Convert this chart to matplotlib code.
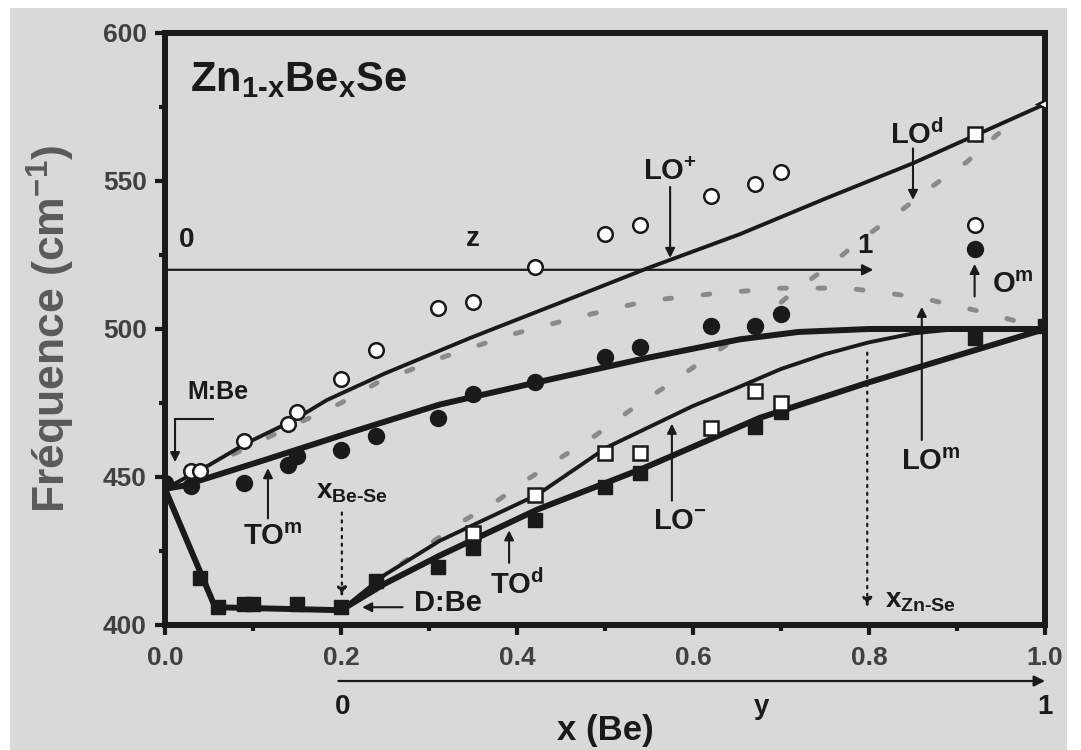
import matplotlib
matplotlib.use("Agg")
import matplotlib.pyplot as plt
from matplotlib.patches import Rectangle
from matplotlib.ticker import MultipleLocator

plt.rcParams['font.family'] = ['Liberation Sans', 'DejaVu Sans']
plt.rcParams['font.weight'] = 'bold'
plt.rcParams['axes.labelweight'] = 'bold'
plt.rcParams['mathtext.fontset'] = 'custom'
plt.rcParams['mathtext.rm'] = 'Liberation Sans:bold'
plt.rcParams['mathtext.it'] = 'Liberation Sans:bold'
plt.rcParams['mathtext.bf'] = 'Liberation Sans:bold'

x_open_circ = [0.03, 0.04, 0.09, 0.14, 0.15, 0.20, 0.24, 0.31, 0.35, 0.42, 0.50, 0.54, 0.62, 0.67, 0.70, 0.92]
y_open_circ = [452, 452, 462, 468, 472, 483, 493, 507, 509, 521, 532, 535, 545, 549, 553, 535]

x_fill_circ = [0.0, 0.03, 0.09, 0.14, 0.15, 0.20, 0.24, 0.31, 0.35, 0.42, 0.50, 0.54, 0.62, 0.67, 0.70, 0.92]
y_fill_circ = [448, 447, 448, 454, 457, 459, 464, 470, 478, 482, 490.5, 494, 501, 501, 505, 527]

x_fill_sq = [0.04, 0.06, 0.09, 0.10, 0.15, 0.20, 0.24, 0.31, 0.35, 0.42, 0.50, 0.54, 0.67, 0.70, 0.92, 1.0]
y_fill_sq = [416, 406, 407, 407, 407, 406, 415, 419.5, 426, 435.5, 446.5, 451.5, 467, 472, 497, 501]

x_open_sq = [0.35, 0.42, 0.50, 0.54, 0.62, 0.67, 0.70, 0.92]
y_open_sq = [431, 444, 458, 458, 466.5, 479, 475, 566]

x_open_tri = [1.0]
y_open_tri = [576]

# model curves (knots)
x_lo_plus = [0, 0.05, 0.093, 0.145, 0.184, 0.25, 0.347, 0.45, 0.548, 0.653, 0.75, 0.85, 1.0]
y_lo_plus = [446, 454, 461.5, 469, 476, 485, 497, 509, 520.5, 532, 544, 556, 576]

x_lo_m = [0, 0.02, 0.116, 0.21, 0.3125, 0.423, 0.544, 0.653, 0.72, 0.8, 1.0]
y_lo_m = [446, 447, 456, 465, 474.5, 482, 490, 496.5, 499, 500, 500]

x_to_d = [0, 0.057, 0.2, 0.25, 0.3125, 0.423, 0.544, 0.676, 0.8, 0.9, 1.0]
y_to_d = [446, 406, 405, 414, 423.5, 439, 453, 470, 482, 491, 500]

x_lo_minus = [0.2, 0.25, 0.3125, 0.423, 0.502, 0.6, 0.653, 0.7, 0.75, 0.8, 0.85, 0.9, 1.0]
y_lo_minus = [405, 417, 428.5, 444, 460, 474, 480.5, 486.5, 491.5, 495.5, 498.5, 500, 500]

x_gray_up = [0, 0.1, 0.2, 0.241, 0.316, 0.392, 0.469, 0.548, 0.625, 0.70, 0.776, 0.855, 0.93, 1.0]
y_gray_up = [446, 461, 475, 481.8, 490.5, 498, 504, 509.5, 512, 513.8, 513.8, 510.8, 505.7, 500]

x_gray_low = [0.2, 0.27, 0.335, 0.373, 0.411, 0.449, 0.489, 0.526, 0.566, 0.605, 0.64, 0.68,
              0.716, 0.756, 0.79, 0.83, 0.869, 0.911, 0.945, 0.975]
y_gray_low = [405, 421, 434.5, 441, 449, 456.4, 464, 472, 480, 488, 495, 504,
              513, 521.6, 530, 538.5, 547.6, 556.4, 565.5, 572]

x_ticks = [0.0, 0.2, 0.4, 0.6, 0.8, 1.0]
x_ticklabels = ['0.0', '0.2', '0.4', '0.6', '0.8', '1.0']
y_ticks = [400, 450, 500, 550, 600]

bg = '#d9d9d9'
ink = '#1a1a1a'

fig = plt.figure(figsize=(10.81, 7.5), dpi=100, facecolor='white')
fig.patches.append(Rectangle((10 / 1081, 0), 1057 / 1081, 742 / 750, transform=fig.transFigure,
                             facecolor=bg, edgecolor='none', zorder=-10))
ax = fig.add_axes([165 / 1081, 1 - 625 / 750, 880 / 1081, 592 / 750])
ax.set_facecolor(bg)
ax.set_xlim(0, 1.0)
ax.set_ylim(400, 600)

for s in ax.spines.values():
    s.set_linewidth(4.3)
    s.set_color(ink)

ax.set_xticks(x_ticks)
ax.set_xticklabels(x_ticklabels)
ax.set_yticks(y_ticks)
ax.xaxis.set_minor_locator(MultipleLocator(0.1))
ax.yaxis.set_minor_locator(MultipleLocator(25))
ax.tick_params(which='major', direction='out', length=7, width=3, color=ink,
               labelsize=19, labelcolor='#404040', pad=6)
ax.tick_params(which='minor', direction='out', length=4, width=3, color=ink)
ax.tick_params(axis='x', which='major', pad=8)
ax.tick_params(top=False, right=False)

# gray dashed curves
gray_kw = dict(color='#8a8a8a', lw=3.5, dashes=(1.4, 6.5), dash_capstyle='round', zorder=2)
ax.plot(x_gray_up, y_gray_up, **gray_kw)
ax.plot(x_gray_low, y_gray_low, **gray_kw)

# model curves
ax.plot(x_lo_plus, y_lo_plus, color=ink, lw=2.8, zorder=3, solid_joinstyle='round')
ax.plot(x_lo_minus, y_lo_minus, color=ink, lw=2.8, zorder=3, solid_joinstyle='round')
ax.plot(x_lo_m, y_lo_m, color=ink, lw=4.3, zorder=3, solid_joinstyle='round')
ax.plot(x_to_d, y_to_d, color=ink, lw=4.3, zorder=3, solid_joinstyle='round')

# data
ax.plot(x_open_circ, y_open_circ, 'o', ms=10.5, mfc='white', mec=ink, mew=1.8, zorder=5)
ax.plot(x_fill_circ, y_fill_circ, 'o', ms=11.5, mfc=ink, mec=ink, zorder=5)
ax.plot(x_fill_sq, y_fill_sq, 's', ms=9.5, mfc=ink, mec=ink, zorder=5)
ax.plot(x_open_sq, y_open_sq, 's', ms=9.5, mfc='white', mec=ink, mew=1.8, zorder=6)
ax.plot(x_open_tri, y_open_tri, '<', ms=12, mfc='white', mec=ink, mew=1.8, zorder=6)

# z axis inside the plot
ax.annotate('', xy=(0.805, 520), xytext=(0.0, 520),
            arrowprops=dict(arrowstyle='-|>', lw=1.6, color=ink, mutation_scale=16,
                            shrinkA=0, shrinkB=0), zorder=4)
ax.text(0.025, 530, '0', fontsize=20, ha='center', va='center', color=ink)
ax.text(0.35, 530.5, 'z', fontsize=20, ha='center', va='center', color=ink)
ax.text(0.795, 528, '1', fontsize=20, ha='center', va='center', color=ink)

# y axis below the plot
ya = -0.0946
trans = ax.get_xaxis_transform()
ax.annotate('', xy=(1.0, ya), xytext=(0.197, ya), xycoords=trans, textcoords=trans,
            arrowprops=dict(arrowstyle='-|>', lw=1.6, color=ink, mutation_scale=16,
                            shrinkA=0, shrinkB=0), annotation_clip=False)
ax.text(0.202, -0.138, '0', transform=trans, fontsize=20, ha='center', va='center', color=ink)
ax.text(0.678, -0.138, 'y', transform=trans, fontsize=20, ha='center', va='center', color=ink)
ax.text(1.0, -0.138, '1', transform=trans, fontsize=20, ha='center', va='center', color=ink)

# title and axis labels
ax.text(0.028, 584, r'Zn$_{\mathrm{1\text{-}x}}$Be$_{\mathrm{x}}$Se', fontsize=30,
        ha='left', va='center', color=ink)
ax.text(0.5, -0.178, 'x (Be)', transform=ax.transAxes, fontsize=25, color=ink,
        ha='center', va='center')
ax.set_ylabel(r'Fréquence (cm$^{\mathrm{-1}}$)', fontsize=32, color='#5a5a5a', labelpad=19)

arrow_kw = dict(arrowstyle='-|>', lw=1.5, color=ink, mutation_scale=14, shrinkA=0, shrinkB=0)
dot_kw = dict(arrowstyle='-|>', lw=1.6, color=ink, mutation_scale=14, shrinkA=0, shrinkB=0,
              linestyle=(0, (1, 2.5)))
lab = dict(fontsize=21, color=ink, ha='center', va='center')

# M:Be with bent arrow
ax.text(0.025, 478.7, 'M:Be', fontsize=18, color=ink, ha='left', va='center')
ax.plot([0.0545, 0.0114], [469.6, 469.6], color=ink, lw=1.5, zorder=4)
ax.annotate('', xy=(0.0114, 455), xytext=(0.0114, 469.6), arrowprops=arrow_kw)

ax.text(0.123, 429.7, r'TO$^{\mathrm{m}}$', **lab)
ax.annotate('', xy=(0.117, 453), xytext=(0.117, 436), arrowprops=arrow_kw)

ax.text(0.172, 445, r'x$_{\mathrm{Be\text{-}Se}}$', fontsize=20, color=ink, ha='left', va='center')
ax.annotate('', xy=(0.201, 409.5), xytext=(0.201, 438), arrowprops=dot_kw)

ax.text(0.322, 407.4, 'D:Be', **lab)
ax.annotate('', xy=(0.224, 406), xytext=(0.27, 406), arrowprops=arrow_kw)

ax.text(0.40, 413.5, r'TO$^{\mathrm{d}}$', **lab)
ax.annotate('', xy=(0.391, 432), xytext=(0.391, 421), arrowprops=arrow_kw)

ax.text(0.585, 435, r'LO$^{\mathrm{-}}$', **lab)
ax.annotate('', xy=(0.576, 468), xytext=(0.576, 442), arrowprops=arrow_kw)

ax.text(0.574, 553, r'LO$^{\mathrm{+}}$', **lab)
ax.annotate('', xy=(0.574, 524), xytext=(0.574, 548), arrowprops=arrow_kw)

ax.text(0.855, 565.5, r'LO$^{\mathrm{d}}$', **lab)
ax.annotate('', xy=(0.85, 543.6), xytext=(0.85, 561), arrowprops=arrow_kw)

ax.text(0.87, 455, r'LO$^{\mathrm{m}}$', **lab)
ax.annotate('', xy=(0.86, 507.5), xytext=(0.86, 462.5), arrowprops=arrow_kw)

ax.text(0.964, 515, r'O$^{\mathrm{m}}$', **lab)
ax.annotate('', xy=(0.92, 522), xytext=(0.92, 511), arrowprops=arrow_kw)

ax.text(0.818, 408, r'x$_{\mathrm{Zn\text{-}Se}}$', fontsize=20, color=ink, ha='left', va='center')
ax.annotate('', xy=(0.798, 406), xytext=(0.798, 492), arrowprops=dot_kw)

fig.savefig('out.png', dpi=100, facecolor=fig.get_facecolor())
